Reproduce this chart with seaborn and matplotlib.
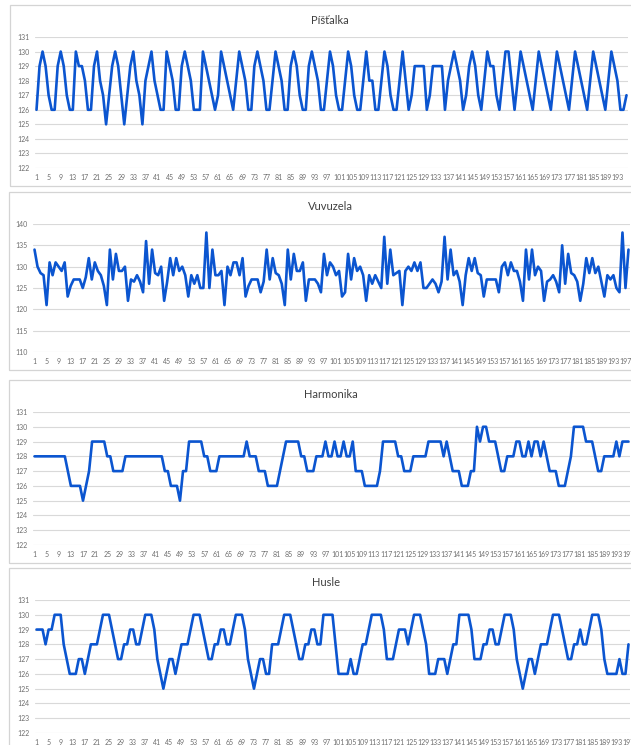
"""
Štyri čiarové grafy nameraných hodnôt (Píšťalka, Vuvuzela, Harmonika, Husle).
"""
import numpy as np
import pandas as pd
import matplotlib
matplotlib.use("Agg")
import matplotlib.pyplot as plt
import seaborn as sns
from matplotlib.patches import Rectangle


# Hodnoty odčítané z grafu
pistalka = [
    126, 129, 130, 129, 127, 126, 126, 129, 130, 129,
    127, 126, 126, 130, 129, 129, 128, 126, 126, 129,
    130, 128, 127, 125, 127, 129, 130, 129, 127, 125,
    127, 129, 130, 128, 127, 125, 128, 129, 130, 128,
    127, 126, 126, 130, 129, 128, 126, 126, 129, 130,
    129, 128, 126, 126, 126, 130, 129, 128, 127, 126,
    127, 130, 129, 128, 127, 126, 128, 130, 129, 128,
    126, 126, 129, 130, 129, 128, 126, 126, 128, 130,
    129, 128, 126, 126, 129, 130, 129, 127, 126, 126,
    129, 130, 129, 128, 126, 126, 128, 130, 129, 127,
    126, 126, 128, 130, 129, 127, 126, 126, 128, 130,
    128, 128, 126, 126, 128, 130, 129, 127, 126, 126,
    128, 130, 128, 126, 127, 129, 129, 129, 129, 126,
    127, 129, 129, 129, 129, 126, 128, 129, 130, 129,
    128, 126, 127, 129, 130, 129, 127, 126, 128, 130,
    129, 129, 127, 126, 128, 130, 130, 128, 126, 128,
    130, 129, 128, 127, 126, 128, 130, 129, 128, 127,
    126, 128, 130, 129, 128, 127, 126, 128, 130, 129,
    128, 127, 126, 128, 130, 129, 128, 127, 126, 128,
    130, 129, 128, 126, 126, 127,
]

vuvuzela = [
    134, 130, 128.5, 128, 121, 131, 128, 131, 130, 129,
    131, 123, 125.5, 127, 127, 127, 125, 127.5, 132, 127,
    131, 129, 128, 125.5, 121, 134, 127, 133, 129, 129,
    130, 122, 127, 126.5, 128, 126.5, 124, 136, 126, 134,
    128.5, 128, 130, 122, 126.5, 132, 128, 132, 129, 130,
    128, 123, 128, 126, 128, 125, 125, 138, 125, 134,
    128, 128, 129, 121, 130, 128, 131, 131, 128, 132,
    123, 125.5, 127, 127, 127, 124, 126.5, 134, 127, 132,
    128.5, 128, 126, 121, 134, 127, 133, 129, 129, 131,
    122, 127, 127, 127, 126, 124,
    133, 128, 131, 130, 128, 129, 123, 124, 133, 127,
    132, 129, 130, 128, 122, 128, 126, 128, 126.5, 125,
    137, 126, 134, 128, 128.5, 129, 121, 129, 130, 129,
    131, 129, 131, 125, 125, 126, 127, 126, 124, 126.5,
    137, 127, 134, 128, 129, 126.5, 121, 128, 132, 129,
    132, 128.5, 128, 123, 127, 127, 127, 127, 124, 130,
    131, 128, 131, 129, 129, 126.5, 122, 134, 127, 134,
    128, 130, 129, 122, 126.5, 127, 128, 126.5, 124, 135,
    126, 133, 128.5, 128, 126.5, 122, 126, 132, 128.5, 132,
    128.5, 130, 126.5, 123, 128, 127, 128, 125, 124, 138,
    125, 134,
]

harmonika = [
    128, 128, 128, 128, 128, 128, 128, 128, 128, 128,
    128, 127, 126, 126, 126, 126, 125, 126, 127, 129,
    129, 129, 129, 129, 128, 128, 127, 127, 127, 127,
    128, 128, 128, 128, 128, 128, 128, 128, 128, 128,
    128, 128, 128, 127, 127, 126, 126, 126, 125, 127,
    127, 129, 129, 129, 129, 129, 128, 128, 127, 127,
    127, 128, 128, 128, 128, 128, 128, 128, 128, 128,
    129, 128, 128, 128, 127, 127, 127, 126, 126, 126,
    126, 127, 128, 129, 129, 129, 129, 129, 128, 128,
    127, 127, 127, 128, 128, 128, 129, 128, 128, 129,
    128, 128, 129, 128, 128, 129, 127, 127, 127, 126,
    126, 126, 126, 126, 127, 129, 129, 129, 129, 129,
    128, 128, 127, 127, 127, 128, 128, 128, 128, 128,
    129, 129, 129, 129, 129, 128, 129, 128, 127, 127,
    127, 126, 126, 126, 127, 127, 130, 129, 130, 130,
    129, 129, 129, 128, 127, 127, 128, 128, 128, 129,
    129, 128, 128, 129, 128, 129, 129, 128, 129, 128,
    127, 127, 127, 126, 126, 126, 127, 128, 130, 130,
    130, 130, 129, 129, 129, 128, 127, 127, 128, 128,
    128, 128, 129, 128, 129, 129, 129,
]

husle = [
    129, 129, 129, 128, 129, 129, 130, 130, 130, 128,
    127, 126, 126, 126, 127, 127, 126, 127, 128, 128,
    128, 129, 130, 130, 130, 129, 128, 127, 127, 128,
    128, 129, 129, 128, 128, 129, 130, 130, 130, 129,
    127, 126, 125, 126, 127, 127, 126, 127, 128, 128,
    128, 129, 130, 130, 130, 129, 128, 127, 127, 128,
    128, 129, 129, 128, 128, 129, 130, 130, 130, 129,
    127, 126, 125, 126, 127, 127, 126, 126, 128, 128,
    128, 129, 130, 130, 130, 129, 128, 127, 127, 128,
    128, 129, 129, 128, 128, 130, 130, 130, 130, 128,
    126, 126, 126, 126, 127, 126, 126, 127, 128, 128,
    129, 130, 130, 130, 130, 129, 127, 127, 127, 128,
    129, 129, 129, 128, 129, 130, 130, 130, 129, 128,
    126, 126, 126, 127, 127, 127, 126, 127, 128, 128,
    130, 130, 130, 130, 129, 127, 127, 127, 128, 128,
    129, 129, 128, 128, 129, 130, 130, 130, 129, 127,
    126, 125, 126, 127, 127, 126, 127, 128, 128, 128,
    129, 130, 130, 130, 129, 128, 127, 127, 128, 128,
    129, 128, 128, 129, 130, 130, 130, 129, 127, 126,
    126, 126, 126, 127, 126, 126, 128,
]

nazvy = ['Píšťalka', 'Vuvuzela', 'Harmonika', 'Husle']
rozsahy_y = [(122, 131, 1), (110, 140, 5), (122, 131, 1), (122, 131, 1)]

MODRA = '#0b55d0'
SIVA_MRIEZKA = '#d9d9d9'
SIVA_TEXT = '#6e6e6e'
SIRKA, VYSKA = 631, 745


def configurar_estilo():
    """Nastaví štýl grafov."""
    sns.set_theme(style="white")
    plt.rcParams['font.family'] = ['Lato', 'DejaVu Sans']


def px(x0, y0, w, h):
    """Prepočet pixelov (od ľavého horného rohu) na súradnice obrázka."""
    return [x0 / SIRKA, 1 - (y0 + h) / VYSKA, w / SIRKA, h / VYSKA]


def kresli_panel(fig, hodnoty, nazov, rozsah, osi_px, titul_px, ram_px):
    """Nakreslí jeden panel s rámom, nadpisom a čiarou."""
    x0, y0, w, h = ram_px
    fig.add_artist(Rectangle((x0 / SIRKA, 1 - (y0 + h) / VYSKA), w / SIRKA, h / VYSKA,
                             transform=fig.transFigure, fill=False,
                             edgecolor='#d4d4d4', linewidth=0.9))

    ax = fig.add_axes(px(*osi_px))
    df = pd.DataFrame({'Meranie': np.arange(1, len(hodnoty) + 1), 'Hodnota': hodnoty})
    sns.lineplot(data=df, x='Meranie', y='Hodnota', ax=ax, color=MODRA, linewidth=1.9)

    y_min, y_max, krok = rozsah
    ax.set_xlim(0.5, len(hodnoty) + 0.5)
    ax.set_ylim(y_min, y_max)
    ax.set_yticks(np.arange(y_min, y_max + krok / 2, krok))
    ax.set_xticks(np.arange(1, len(hodnoty) + 1, 4))
    ax.grid(axis='y', color=SIVA_MRIEZKA, linewidth=0.8)
    ax.grid(axis='x', visible=False)
    for s in ax.spines.values():
        s.set_visible(False)
    ax.tick_params(axis='both', length=0, labelsize=5, colors=SIVA_TEXT)
    ax.tick_params(axis='x', pad=4)
    ax.tick_params(axis='y', pad=4)
    ax.set_xlabel('')
    ax.set_ylabel('')
    ax.patch.set_alpha(0)

    fig.text(titul_px[0] / SIRKA, 1 - titul_px[1] / VYSKA, nazov,
             ha='center', va='center', fontsize=8, color='#404040')
    return ax


configurar_estilo()
fig = plt.figure(figsize=(SIRKA / 100, VYSKA / 100), dpi=100)
fig.patch.set_facecolor('white')

data = [pistalka, vuvuzela, harmonika, husle]
osi = [(35, 37, 593, 131), (33, 224, 597, 128), (33, 412, 597, 133), (35, 600, 595, 133)]
tituly = [(330, 20), (330, 207), (331, 395), (326, 583)]
ramy = [(10, 5, 630, 181), (9, 192, 630, 178), (9, 380, 630, 183), (9, 568, 630, 190)]

for hodnoty, nazov, rozsah, o, t, r in zip(data, nazvy, rozsahy_y, osi, tituly, ramy):
    kresli_panel(fig, hodnoty, nazov, rozsah, o, t, r)

fig.savefig('out.png', dpi=100)
plt.close(fig)
